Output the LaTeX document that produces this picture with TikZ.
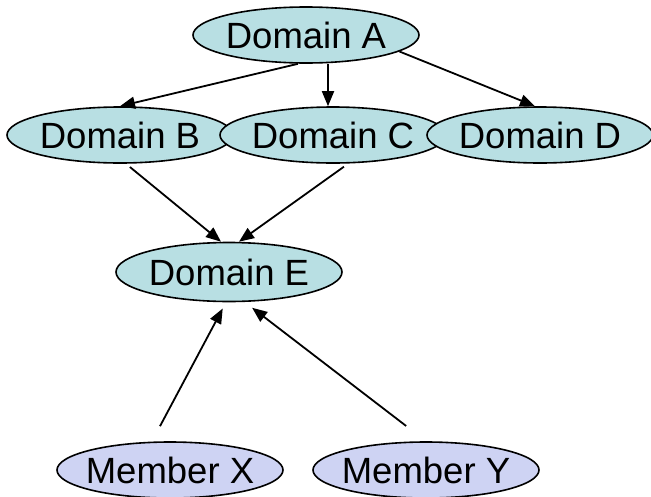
\documentclass[tikz,border=0pt]{standalone}
\usepackage{fontspec}
\setmainfont{Liberation Sans}
\usetikzlibrary{shapes.geometric,arrows.meta}
\definecolor{domfill}{RGB}{184,223,227}
\definecolor{memfill}{RGB}{206,211,243}
\tikzset{
  dombox/.style={ellipse, draw, line width=1.6pt, fill=domfill, inner ysep=0pt, inner xsep=-20pt,
    minimum width=226pt, minimum height=56pt, font=\fontsize{36.5}{36.5}\selectfont},
  membox/.style={dombox, fill=memfill},
  link/.style={-{Triangle[length=15pt,width=12pt]}, line width=1.8pt}
}

\begin{document}
\begin{tikzpicture}[x=1pt,y=-1pt]
\useasboundingbox (0,0) rectangle (651,496);

\node[dombox] (A) at (306,35) {Domain A};
\node[dombox] (B) at (120,135) {Domain B};
\node[dombox] (C) at (333,135) {Domain C};
\node[dombox] (D) at (540,135) {Domain D};
\node[dombox, minimum height=59pt] (E) at (229,272) {Domain E};
\node[membox] (X) at (170,470) {Member X};
\node[membox] (Y) at (426,470) {Member Y};

\draw[link] ([xshift=-8pt]A.south) -- (B.north);
\draw[link] ([xshift=22pt]A.south) -- ([xshift=22pt]A.south |- C.north);
\draw[link] (A.-10) -- ([xshift=-5pt]D.north);

\draw[link, shorten <=5pt] ([xshift=6pt]B.south) -- ([xshift=-8pt]E.north);
\draw[link, shorten <=5pt] ([xshift=15pt]C.south) -- ([xshift=10pt]E.north);

\draw[link, shorten <=17pt, shorten >=7pt] ([xshift=-18pt]X.north) -- ([xshift=-3pt]E.south);
\draw[link, shorten <=25pt, shorten >=9pt] (Y.north) -- ([xshift=16pt]E.south);
\end{tikzpicture}
\end{document}
